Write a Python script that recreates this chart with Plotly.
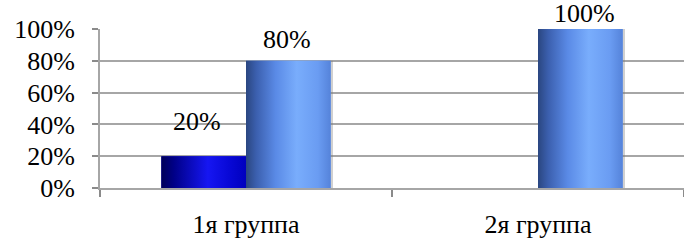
import plotly.graph_objects as go

categories = ["1я группа", "2я группа"]
series_names = ["Ряд 1", "Ряд 2"]
series_dark = [0.20, 0.00]
series_light = [0.80, 1.00]
y_ticks = [0, 0.2, 0.4, 0.6, 0.8, 1.0]
y_tick_labels = ["0%", "20%", "40%", "60%", "80%", "100%"]

# styling
FONT = "Liberation Serif, Tinos, Times New Roman, Times, DejaVu Serif, serif"
FS = 26
BAR_W = 0.29
offsets = [-BAR_W, 0.0]
base_colors = ["#0a0ad0", "#5f93ec"]
scales = [
    [[0, "#000058"], [0.15, "#000088"], [0.55, "#1616f2"], [0.8, "#0808d6"], [1, "#0000be"]],
    [[0, "#2a4680"], [0.12, "#3b5fae"], [0.35, "#5a8ae6"], [0.6, "#79adfc"], [0.85, "#6a9cf2"], [1, "#5583da"]],
]
label_yshift = [[18, 0], [5, -1]]
label_xshift = [[-7, 0], [-1, 4]]

fig = go.Figure()
all_series = [series_dark, series_light]
xs = list(range(len(categories)))

for s, vals in enumerate(all_series):
    fig.add_trace(go.Bar(x=xs, y=vals, width=BAR_W, offset=offsets[s],
                         marker=dict(color=base_colors[s], line=dict(width=0)),
                         name=series_names[s], showlegend=False))

for s, vals in enumerate(all_series):
    for i, v in enumerate(vals):
        if v <= 0:
            continue
        x0 = xs[i] + offsets[s]
        x1 = x0 + BAR_W
        fig.add_trace(go.Scatter(
            x=[x1, x1 + 0.008, x1 + 0.008, x1, x1], y=[0, 0, v, v, 0],
            fill="toself", fillcolor="rgba(120,120,120,0.35)", mode="lines",
            line=dict(width=0), hoverinfo="skip", showlegend=False))
        fig.add_trace(go.Scatter(
            x=[x0, x1, x1, x0, x0], y=[0, 0, v, v, 0],
            fill="toself", mode="lines", line=dict(width=0),
            fillgradient=dict(type="horizontal", colorscale=scales[s], start=x0, stop=x1),
            hoverinfo="skip", showlegend=False))
        fig.add_annotation(x=x0 + BAR_W / 2, y=v, text=f"{round(v*100)}%",
                           showarrow=False, yanchor="bottom",
                           yshift=label_yshift[s][i], xshift=label_xshift[s][i],
                           font=dict(family=FONT, size=FS, color="#000000"))

fig.update_layout(
    width=684, height=240,
    margin=dict(l=100, r=0, t=29, b=52, autoexpand=False),
    paper_bgcolor="white", plot_bgcolor="white",
    barmode="overlay",
    font=dict(family=FONT, size=FS, color="#000000"),
)
fig.update_xaxes(
    range=[-0.5, 1.5], tickvals=xs, ticktext=categories, ticks="",
    showgrid=False, zeroline=False, showline=True, linecolor="#a6a6a6", linewidth=2,
    ticklabelstandoff=12, automargin=False,
    minor=dict(tick0=-0.5, dtick=1, ticks="outside", ticklen=7, tickcolor="#8a8a8a", tickwidth=2, showgrid=False),
)
fig.update_yaxes(
    range=[0, 1], tickvals=y_ticks, ticktext=y_tick_labels,
    ticks="outside", ticklen=6, tickcolor="#8a8a8a", tickwidth=2,
    showgrid=True, gridcolor="#a6a6a6", gridwidth=2,
    zeroline=False, showline=True, linecolor="#a6a6a6", linewidth=2,
    ticklabelstandoff=12, automargin=False,
)

fig.write_html("out.html", config={"displayModeBar": False},
               post_script="document.body.style.margin='0';document.body.style.padding='0';")
